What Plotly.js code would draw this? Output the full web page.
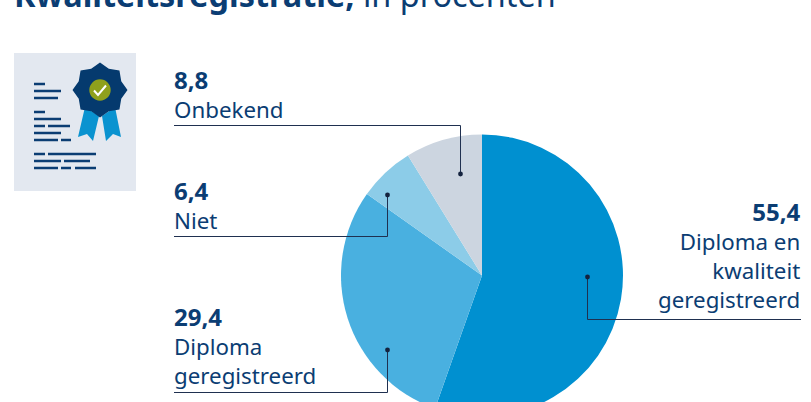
<!DOCTYPE html>
<html>
<head>
<meta charset="utf-8">
<script src="https://cdn.plot.ly/plotly-3.0.1.min.js"></script>
<style>html,body{margin:0;padding:0;background:#fff;overflow:hidden;width:811px;height:402px}</style>
</head>
<body>
<div id="chart"></div>
<script>
const categories = ["Diploma en kwaliteit geregistreerd", "Diploma geregistreerd", "Niet", "Onbekend"];
const values = [55.4, 29.4, 6.4, 8.8];
const valueLabels = ["55,4", "29,4", "6,4", "8,8"];
const labelLines = [["Diploma en", "kwaliteit", "geregistreerd"], ["Diploma", "geregistreerd"], ["Niet"], ["Onbekend"]];
const sliceColors = ["#0090d0", "#49b0e0", "#8ccce8", "#ccd5e0"];
const titleBold = "Kwaliteitsregistratie,";
const titleRest = " in procenten";

const W = 811, H = 550;
const navy = "#0b3d73", FONT = '"Noto Sans", sans-serif';
const px = x => x / W, py = y => 1 - y / H;
const cx = 482, cy = 275.5, R = 141;

const annotations = [{
  text: "<b>" + titleBold + "</b>" + titleRest, xref: "paper", yref: "paper",
  x: px(13), y: py(-29), xanchor: "left", yanchor: "top", showarrow: false, borderpad: 0,
  font: {family: FONT, size: 32.4, color: navy}
}];
const labelPos = [[801, 194, "right"], [173, 299, "left"], [173, 173, "left"], [173, 62, "left"]];
values.forEach((v, i) => annotations.push({
  text: '<span style="font-size:24px"><b>' + valueLabels[i] + "</b></span><br>" + labelLines[i].join("<br>"),
  xref: "paper", yref: "paper", x: px(labelPos[i][0]), y: py(labelPos[i][1]),
  xanchor: labelPos[i][2], yanchor: "top", align: labelPos[i][2], showarrow: false, borderpad: 0,
  font: {family: FONT, size: 22.3, color: navy}
}));

const shapes = [];
const base = {xref: "paper", yref: "paper"};
const line = (x0, y0, x1, y1, color, width) => shapes.push({...base, type: "line",
  x0: px(x0), y0: py(y0), x1: px(x1), y1: py(y1), line: {color, width}});
const P = pts => "M" + pts.map(p => px(p[0]) + "," + py(p[1])).join("L") + "Z";
const poly = (pts, color) => shapes.push({...base, type: "path", path: P(pts), fillcolor: color, line: {width: 0}});

// leader lines
const leaders = [[[801, 319.5], [587.5, 319.5], [587.5, 277]], [[174, 392.5], [387.5, 392.5], [387.5, 350]],
                 [[174, 236.5], [387.5, 236.5], [387.5, 195]], [[174, 125.5], [460.5, 125.5], [460.5, 174]]];
leaders.forEach(l => {
  for (let i = 0; i < 2; i++) line(l[i][0], l[i][1], l[i + 1][0], l[i + 1][1], "#1f3050", 1);
  const d = l[2];
  shapes.push({...base, type: "circle", x0: px(d[0] - 2.4), x1: px(d[0] + 2.4), y0: py(d[1] - 2.4), y1: py(d[1] + 2.4),
    fillcolor: "#14233f", line: {width: 0}});
});

// icon
shapes.push({...base, type: "rect", x0: px(14), x1: px(136), y0: py(53), y1: py(191), fillcolor: "#e3e8f0", line: {width: 0}});
const docLines = [[84, 34, 45], [91, 34, 61], [98, 34, 58], [112, 34, 45], [119, 34, 61], [126, 34, 45], [126, 48, 70],
  [133, 34, 61], [140, 34, 58], [140, 61, 71], [154, 34, 45], [154, 48, 96], [161, 34, 61], [161, 64, 90],
  [168, 34, 58], [168, 61, 71], [168, 75, 96]];
docLines.forEach(d => line(d[1], d[0], d[2], d[0], navy, 2.5));
poly([[85, 107], [99, 116], [93, 141], [87, 134], [78, 137]], "#0a93d0");
poly([[102, 116], [115, 107], [121, 137], [113, 134], [106, 141]], "#0a93d0");
const seal = [];
for (let i = 0; i < 16; i++) {
  const a = i * Math.PI / 8, r = i % 2 ? 23 : 27.5;
  seal.push([100 + r * Math.sin(a), 90 - r * Math.cos(a)]);
}
poly(seal, "#053a6e");
shapes.push({...base, type: "circle", x0: px(89.3), x1: px(110.7), y0: py(79.3), y1: py(100.7), fillcolor: "#8fa01c", line: {width: 0}});
shapes.push({...base, type: "path", path: "M" + px(94) + "," + py(90.5) + "L" + px(98) + "," + py(95) + "L" + px(106) + "," + py(85.5),
  line: {color: "#fff", width: 2}});

Plotly.newPlot("chart", [{
  type: "pie", labels: categories, values: values, sort: false, direction: "clockwise", rotation: 0,
  marker: {colors: sliceColors, line: {width: 0}}, textinfo: "none", hoverinfo: "none", showlegend: false,
  domain: {x: [px(cx - R), px(cx + R)], y: [py(cy + R), py(cy - R)]}
}], {
  width: W, height: H, margin: {l: 0, r: 0, t: 0, b: 0}, paper_bgcolor: "#fff", showlegend: false,
  annotations, shapes
}, {staticPlot: true, displayModeBar: false});
</script>
</body>
</html>
